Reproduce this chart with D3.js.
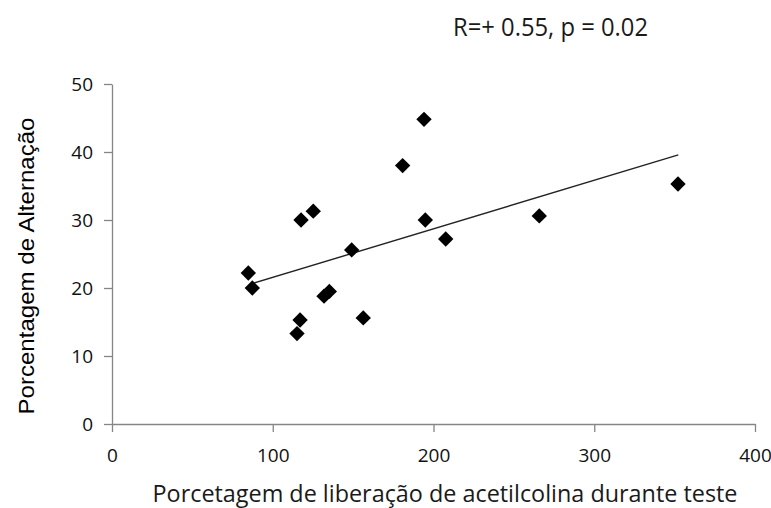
<!DOCTYPE html>
<html>
<head>
<meta charset="utf-8">
<script src="https://cdn.jsdelivr.net/npm/d3@7"></script>
<style>
  html, body { margin: 0; padding: 0; background: #fff; }
  svg { display: block; }
</style>
</head>
<body>
<script>
// Acetylcholine release (%) vs. spontaneous alternation (%)
const liberacao = [84.8, 87.3, 117.6, 125.2, 149.1, 180.8, 194.9, 207.6, 131.9, 135.2, 117.0, 115.1, 156.3, 194.1, 265.8, 352.1];
const alternacao = [22.2, 20.0, 30.0, 31.3, 25.6, 38.0, 30.0, 27.2, 18.8, 19.5, 15.3, 13.3, 15.6, 44.8, 30.6, 35.3];
const xTicks = [0, 100, 200, 300, 400];
const yTicks = [0, 10, 20, 30, 40, 50];
const fitRange = [88, 352.3];
const statsLabel = "R=+ 0.55, p = 0.02";
const xTitle = "Porcetagem de liberação de acetilcolina durante teste";
const yTitle = "Porcentagem de Alternação";

const W = 771, H = 508;
const svg = d3.select("body").append("svg").attr("width", W).attr("height", H);

const x = d3.scaleLinear().domain([0, 400]).range([112, 755]);
const y = d3.scaleLinear().domain([0, 50]).range([424, 84]);

const axisColor = "#868686";
const labelFont = "'Open Sans', 'Noto Sans', sans-serif";

// axes
const gx = svg.append("g").attr("transform", `translate(0,${y(0)})`)
  .call(d3.axisBottom(x).tickValues(xTicks).tickSize(8).tickSizeOuter(0));
const gy = svg.append("g").attr("transform", `translate(${x(0)},0)`)
  .call(d3.axisLeft(y).tickValues(yTicks).tickSize(8).tickPadding(11).tickSizeOuter(0));

[gx, gy].forEach(g => {
  g.select(".domain").attr("stroke", axisColor).attr("stroke-width", 1.3);
  g.selectAll(".tick line").attr("stroke", axisColor).attr("stroke-width", 1.3);
  g.selectAll(".tick text").attr("fill", "#111")
    .style("font-family", labelFont).style("font-size", "19px");
});
gx.selectAll(".tick text").attr("y", 38).attr("dy", null);
gy.selectAll(".tick text").attr("dy", "0.36em");

// least-squares trend line
const n = liberacao.length;
const mx = d3.mean(liberacao), my = d3.mean(alternacao);
let sxy = 0, sxx = 0;
for (let i = 0; i < n; i++) {
  sxy += (liberacao[i] - mx) * (alternacao[i] - my);
  sxx += (liberacao[i] - mx) ** 2;
}
const slope = sxy / sxx, intercept = my - slope * mx;
svg.append("line")
  .attr("x1", x(fitRange[0])).attr("y1", y(intercept + slope * fitRange[0]))
  .attr("x2", x(fitRange[1])).attr("y2", y(intercept + slope * fitRange[1]))
  .attr("stroke", "#222").attr("stroke-width", 1.4);

// diamond markers
const diamond = d3.symbol().type(d3.symbolSquare).size(118);
svg.append("g").selectAll("path")
  .data(liberacao.map((v, i) => [v, alternacao[i]]))
  .join("path")
  .attr("d", diamond)
  .attr("transform", d => `translate(${x(d[0])},${y(d[1])}) rotate(45)`)
  .attr("fill", "#000");

// texts
svg.append("text")
  .attr("x", 550.5).attr("y", 36).attr("text-anchor", "middle")
  .attr("textLength", 195).attr("lengthAdjust", "spacingAndGlyphs")
  .style("font-family", labelFont).style("font-size", "25px").attr("fill", "#1a1a1a")
  .text(statsLabel);

svg.append("text")
  .attr("x", 445).attr("y", 502).attr("text-anchor", "middle")
  .attr("textLength", 585).attr("lengthAdjust", "spacingAndGlyphs")
  .style("font-family", labelFont).style("font-size", "24px").attr("fill", "#1a1a1a")
  .text(xTitle);

svg.append("text")
  .attr("transform", "translate(34,266) rotate(-90)")
  .attr("text-anchor", "middle")
  .attr("textLength", 297).attr("lengthAdjust", "spacingAndGlyphs")
  .style("font-family", "'Liberation Sans', Arial, sans-serif").style("font-size", "22px").attr("fill", "#000")
  .text(yTitle);
</script>
</body>
</html>
